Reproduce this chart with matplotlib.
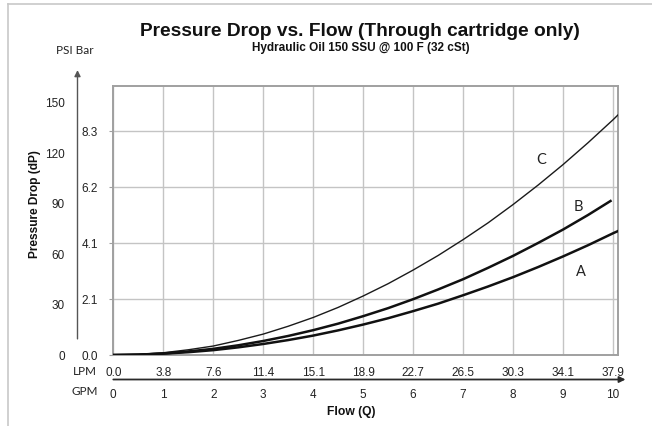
"""Pressure drop vs. flow chart for the cartridge (hydraulic oil, 32 cSt)."""

import matplotlib

matplotlib.use("Agg")
import matplotlib.pyplot as plt
from matplotlib.lines import Line2D

# ------------------------------------------------------------------
# Data (pressure drop in PSI vs. flow in GPM)
# ------------------------------------------------------------------
gpm_a = [0, 0.5, 1, 1.5, 2, 2.5, 3, 3.5, 4, 4.5, 5, 5.5, 6, 6.5, 7, 7.5, 8, 8.5, 9, 9.5, 10, 10.1]
psi_a = [0, 0.2, 0.7, 1.5, 2.6, 4.1, 5.9, 8.0, 10.4, 13.2, 16.3, 19.7, 23.5, 27.5, 32.0, 36.7,
         41.7, 47.1, 52.8, 58.8, 65.2, 66.4]

gpm_b = [0, 0.5, 1, 1.5, 2, 2.5, 3, 3.5, 4, 4.5, 5, 5.5, 6, 6.5, 7, 7.5, 8, 8.5, 9, 9.5, 9.95]
psi_b = [0, 0.2, 0.8, 1.9, 3.3, 5.2, 7.5, 10.2, 13.3, 16.8, 20.8, 25.1, 29.9, 35.1, 40.6, 46.7,
         53.1, 60.0, 67.2, 75.0, 82.5]

gpm_c = [0, 0.5, 1, 1.5, 2, 2.5, 3, 3.5, 4, 4.5, 5, 5.5, 6, 6.5, 7, 7.5, 8, 8.5, 9, 9.5, 10, 10.1]
psi_c = [0, 0.3, 1.2, 2.8, 4.8, 7.8, 11.2, 15.4, 20.1, 25.5, 31.6, 38.2, 45.5, 53.3, 61.8, 70.8,
         80.6, 91.0, 102.0, 113.7, 126.0, 128.6]

curve_names = ["A", "B", "C"]
label_pos = [(9.35, 45), (9.3, 80), (8.57, 105)]

gpm_ticks = list(range(0, 11))
lpm_labels = ["0.0", "3.8", "7.6", "11.4", "15.1", "18.9", "22.7", "26.5", "30.3", "34.1", "37.9"]
bar_ticks = [0, 30, 60, 90, 120]
bar_labels = ["0.0", "2.1", "4.1", "6.2", "8.3"]
psi_ticks = [0, 30, 60, 90, 120, 150]

# ------------------------------------------------------------------
# Figure
# ------------------------------------------------------------------
W, H = 652, 427
fig = plt.figure(figsize=(W / 100, H / 100), dpi=100)
fig.patch.set_facecolor("white")

ARIAL = "Liberation Sans"
SOFT = "Lato"


def fx(px):
    return px / W


def fy(py):
    return 1 - py / H


# page frame (left + top rule)
fig.add_artist(Line2D([fx(8), fx(8)], [0, fy(5)], color="#c8c8c8", lw=1.2))
fig.add_artist(Line2D([fx(8), 1], [fy(5), fy(5)], color="#c8c8c8", lw=1.2))

# main plot area
left, right, top, bottom = 113.3, 618, 87, 356
ax = fig.add_axes([fx(left), fy(bottom), fx(right - left), fy(top) - fy(bottom)])
ax.set_xlim(0, 10.1)
ax.set_ylim(0, 144.1)

for s in ax.spines.values():
    s.set_color("#a0a0a0")
    s.set_linewidth(1.4)

ax.set_xticks(gpm_ticks, labels=lpm_labels)
ax.set_yticks(bar_ticks, labels=bar_labels)
ax.tick_params(axis="x", length=0, pad=8, labelsize=8.5, labelcolor="#222222")
ax.tick_params(axis="y", length=3, color="#a0a0a0", pad=8, labelsize=8.5, labelcolor="#222222")
for lab in ax.get_xticklabels() + ax.get_yticklabels():
    lab.set_fontfamily(ARIAL)
ax.grid(True, color="#c4c4c4", lw=1.0)
ax.set_axisbelow(True)

ax.plot(gpm_c, psi_c, color="#1a1a1a", lw=1.0, zorder=3)
ax.plot(gpm_b, psi_b, color="#111111", lw=1.8, zorder=3)
ax.plot(gpm_a, psi_a, color="#111111", lw=1.8, zorder=3)

for name, (x, y) in zip(curve_names, label_pos):
    ax.text(x, y, name, family=SOFT, fontsize=10.5, ha="center", va="center", color="#222222")

# GPM scale on its own (otherwise empty) axes, with the flow arrow along it
arrow_px = 380.5
axg = fig.add_axes([fx(left), fy(arrow_px), fx(right - left), 0.001])
axg.set_xlim(ax.get_xlim())
axg.patch.set_visible(False)
for s in axg.spines.values():
    s.set_visible(False)
axg.set_yticks([])
axg.set_xticks(gpm_ticks, labels=[str(t) for t in gpm_ticks])
axg.tick_params(axis="x", length=0, pad=6, labelsize=8.5, labelcolor="#222222")
for lab in axg.get_xticklabels():
    lab.set_fontfamily(ARIAL)
axg.annotate("", xy=(10.25, 0), xytext=(0, 0), xycoords="data",
             arrowprops=dict(arrowstyle="-|>", color="#2a2a2a", lw=1.3,
                             mutation_scale=9, shrinkA=0, shrinkB=0),
             annotation_clip=False)

# outer PSI scale with its own arrow
psi_top, psi_bot = 103, 355
axp = fig.add_axes([fx(77.5), fy(psi_bot), 0.001, fy(psi_top) - fy(psi_bot)])
axp.set_ylim(0, 150)
axp.set_xlim(0, 1)
axp.patch.set_visible(False)
for s in axp.spines.values():
    s.set_visible(False)
axp.set_xticks([])
axp.set_yticks(psi_ticks, labels=[str(t) for t in psi_ticks])
axp.tick_params(axis="y", length=0, pad=9, labelsize=8.5, labelcolor="#222222")
for lab in axp.get_yticklabels():
    lab.set_fontfamily(ARIAL)
axp.annotate("", xy=(0, 169), xytext=(0, 9),
             arrowprops=dict(arrowstyle="-|>", color="#555555", lw=1.0,
                             mutation_scale=9, shrinkA=0, shrinkB=0),
             annotation_clip=False)

# titles and axis captions
fig.text(fx(360), fy(32), "Pressure Drop vs. Flow (Through cartridge only)",
         family=ARIAL, weight="bold", fontsize=13.8, ha="center", va="center", color="#111111")
fig.text(fx(361), fy(48), "Hydraulic Oil 150 SSU @ 100 F (32 cSt)",
         family=ARIAL, weight="bold", fontsize=8.5, ha="center", va="center", color="#111111")
fig.text(fx(75), fy(50), "PSI Bar", family=SOFT, fontsize=8.5, ha="center", va="center",
         color="#222222")
fig.text(fx(35), fy(204), "Pressure Drop (dP)", family=ARIAL, weight="bold", fontsize=8.6,
         rotation=90, ha="center", va="center", color="#111111")
fig.text(fx(85), fy(372), "LPM", family=SOFT, fontsize=8.5, ha="center", va="center",
         color="#222222")
fig.text(fx(85), fy(392), "GPM", family=SOFT, fontsize=8.5, ha="center", va="center",
         color="#222222")
fig.text(fx(351), fy(412), "Flow (Q)", family=ARIAL, weight="bold", fontsize=8.7,
         ha="center", va="center", color="#111111")

fig.savefig("out.png", dpi=100)
